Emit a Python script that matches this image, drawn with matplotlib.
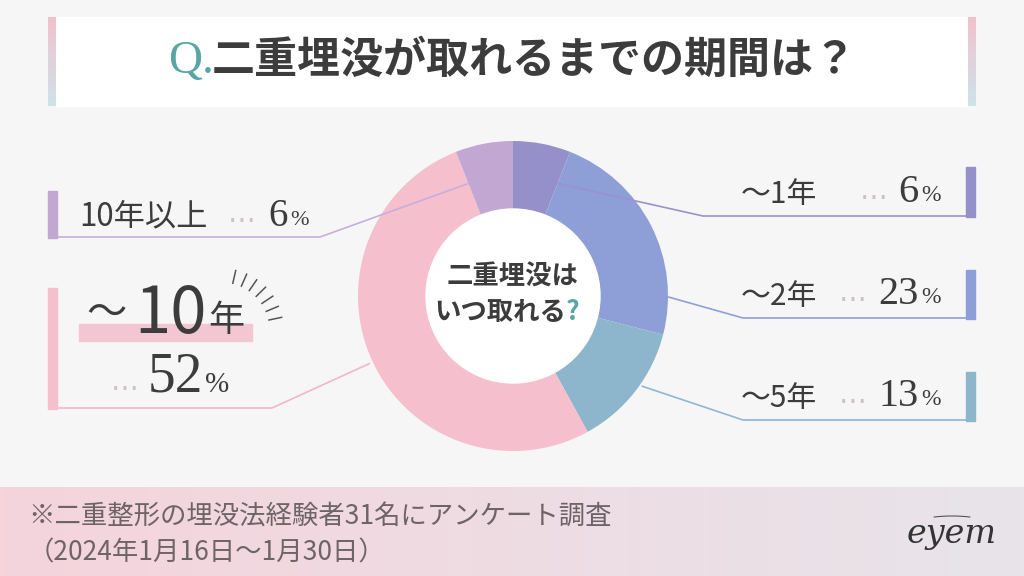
import numpy as np
import matplotlib
matplotlib.use("Agg")
import matplotlib.pyplot as plt
from matplotlib.patches import Rectangle, Circle, Arc
from matplotlib.colors import to_rgb

plt.rcParams['font.family'] = ['Noto Sans CJK JP', 'DejaVu Sans']

# --- data ---------------------------------------------------------------
categories = ["～1年", "～2年", "～5年", "～10年", "10年以上"]
shares = [6, 23, 13, 52, 6]
slice_colors = ["#9590c9", "#8e9fd8", "#8db6cc", "#f5bfcd", "#c1a7d2"]
line_colors = ["#9a92cf", "#8e9fd9", "#8fb7cf", "#f4b6c8", "#c7aedb"]

TITLE_Q = "Q."
TITLE = "二重埋没が取れるまでの期間は？"
CENTER_1 = "二重埋没は"
CENTER_2 = "いつ取れる"
NOTE_1 = "※二重整形の埋没法経験者31名にアンケート調査"
NOTE_2 = "（2024年1月16日～1月30日）"

# --- layout (pixel coords, y down) ---------------------------------------
W, H = 1024, 576
CX, CY, R_OUT, R_IN = 513, 296, 155, 87
BG = "#f6f6f6"
DARK = "#3c3c3c"
TEAL = "#5aa6a6"
DOTS = "#cbc3c3"

# underline y, elbow x, bar top, anchor (fraction inside slice, radius)
LEADERS = {
    "～1年":   dict(side="R", y=216, elbow=703, top=167, f=1.0, r=121),
    "～2年":   dict(side="R", y=318, elbow=743, top=270, f=0.83, r=155),
    "～5年":   dict(side="R", y=420, elbow=743, top=372, f=0.44, r=157),
    "～10年":  dict(side="L", y=408, elbow=272, top=288, f=0.5, r=158),
    "10年以上": dict(side="L", y=237, elbow=320, top=191, f=0.0, r=121),
}


def grad(c1, c2, n=256):
    a, b = np.array(to_rgb(c1)), np.array(to_rgb(c2))
    t = np.linspace(0, 1, n)[:, None]
    return a * (1 - t) + b * t


fig = plt.figure(figsize=(W / 100, H / 100), dpi=100)
fig.patch.set_facecolor(BG)
ax = fig.add_axes([0, 0, 1, 1])
ax.set_facecolor(BG)

# donut: y axis is inverted, so counterclock in data = clockwise on screen
ax.pie(shares, colors=slice_colors, radius=R_OUT, center=(CX, CY),
       startangle=270, counterclock=True,
       wedgeprops=dict(width=R_OUT - R_IN, linewidth=0))
ax.add_patch(Circle((CX, CY), R_IN, color="white", zorder=2))

# title box
ax.add_patch(Rectangle((56, 17), 912, 89, color="white", zorder=1))
strip = grad("#f3c2cc", "#cce3ea")[:, None, :]
for x0 in (48, 968):
    ax.imshow(strip, extent=(x0, x0 + 8, 106, 17), origin="upper",
              aspect="auto", zorder=2)
ax.text(214, 62, TITLE_Q, color=TEAL, fontsize=34, ha="right", va="center",
        family=["Liberation Serif", "DejaVu Serif"])
ax.text(534, 60, TITLE, color=DARK, fontsize=31, fontweight="bold",
        ha="center", va="center")

# center text
ax.text(513, 277, CENTER_1, color=DARK, fontsize=19, fontweight="bold",
        ha="center", va="center", zorder=5)
ax.text(566, 313, CENTER_2, color=DARK, fontsize=19, fontweight="bold",
        ha="right", va="center", zorder=5)
ax.text(566, 313, "?", color=TEAL, fontsize=19, fontweight="bold",
        ha="left", va="center", zorder=5)

# leaders, bars
cum = np.concatenate([[0], np.cumsum(shares)])
for i, cat in enumerate(categories):
    L = LEADERS[cat]
    theta = np.deg2rad(360 * (cum[i] + L["f"] * shares[i]) / 100)
    ax_, ay_ = CX + L["r"] * np.sin(theta), CY - L["r"] * np.cos(theta)
    edge = 975 if L["side"] == "R" else 48
    ax.plot([edge, L["elbow"], ax_], [L["y"], L["y"], ay_],
            color=line_colors[i], lw=1.2, zorder=4, solid_capstyle="butt")
    bx = 966 if L["side"] == "R" else 48
    ax.add_patch(Rectangle((bx, L["top"]), 9, L["y"] - L["top"] + 1,
                           color=slice_colors[i], zorder=4))

serif = ["Liberation Serif", "DejaVu Serif"]

# right labels
for i in range(3):
    cat = categories[i]
    y = LEADERS[cat]["y"]
    num = str(shares[i])
    ax.text(741, y - 13, cat, color=DARK, fontsize=21.5, ha="left", va="baseline")
    ax.text(919, y - 14, num, color=DARK, fontsize=29, ha="right", va="baseline",
            family=serif)
    ax.text(921, y - 15, "%", color=DARK, fontsize=17, ha="left", va="baseline",
            family=serif)
    ax.text(919 - 21 * len(num) - 10, y - 17, "…", color=DOTS, fontsize=20,
            ha="right", va="baseline", family="DejaVu Sans")

# left: 10年以上
y = LEADERS["10年以上"]["y"]
ax.text(79, y - 12, categories[4], color=DARK, fontsize=22.5, ha="left", va="baseline")
ax.text(288, y - 11, str(shares[4]), color=DARK, fontsize=28, ha="right",
        va="baseline", family=serif)
ax.text(290, y - 12, "%", color=DARK, fontsize=16, ha="left", va="baseline",
        family=serif)
ax.text(256, y - 15, "…", color=DOTS, fontsize=20, ha="right", va="baseline",
        family="DejaVu Sans")

# left: ～10年 (highlight)
ax.add_patch(Rectangle((79, 324), 173, 17, color="#f2c6d3", zorder=3))
ax.text(86, 313, "～", color=DARK, fontsize=29, ha="left", va="center", zorder=5)
ax.text(134, 333, "10", color=DARK, fontsize=47, ha="left", va="baseline", zorder=5)
ax.text(208, 331, "年", color=DARK, fontsize=26, ha="left", va="baseline", zorder=5)
for a in np.deg2rad(np.linspace(77, 12, 7)):
    ax.plot([222 + 48 * np.cos(a), 222 + 61 * np.cos(a)],
            [330 - 48 * np.sin(a), 330 - 61 * np.sin(a)],
            color="#555555", lw=1.1, zorder=5)
ax.text(203, 392, str(shares[3]), color=DARK, fontsize=40, ha="right",
        va="baseline", family=serif)
ax.text(205, 392, "%", color=DARK, fontsize=21, ha="left", va="baseline",
        family=serif)
ax.text(139, 390, "…", color=DOTS, fontsize=20, ha="right", va="baseline",
        family="DejaVu Sans")

# footer band
band = grad("#f5d4dc", "#e8e4ea")[None, :, :]
ax.imshow(band, extent=(0, W, H, 487), origin="upper", aspect="auto", zorder=1)
ax.text(28, 516, NOTE_1, color="#6e6468", fontsize=19, ha="left", va="center", zorder=3)
ax.text(28, 553, NOTE_2, color="#6e6468", fontsize=19, ha="left", va="center", zorder=3)

# logo
ax.text(952, 534, "eyem", color="#333333", fontsize=24, style="italic",
        family=["DejaVu Serif"], ha="center", va="center", zorder=3)
ax.add_patch(Arc((952, 522), 64, 12, theta1=195, theta2=345, color="#555555",
                 lw=0.8, zorder=3))

ax.set_xlim(0, W)
ax.set_ylim(H, 0)
ax.set_aspect("auto")
ax.axis("off")

fig.savefig("out.png", dpi=100, facecolor=BG)
